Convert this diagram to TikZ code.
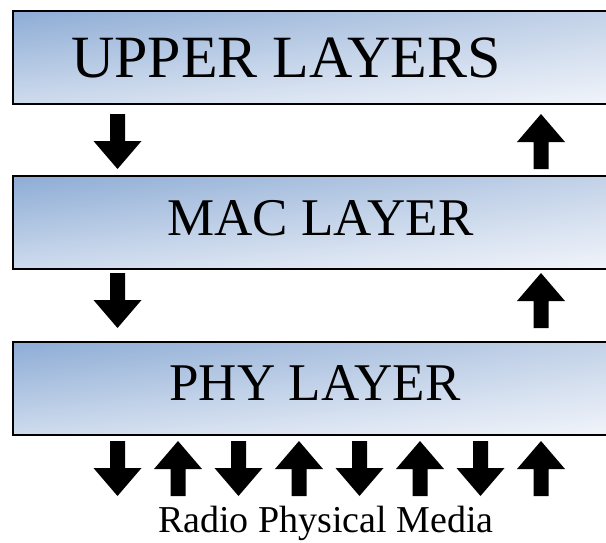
\documentclass[tikz,border=0pt]{standalone}
\usepackage{fontspec}
\setmainfont{Liberation Serif}
\usetikzlibrary{shadings}
\definecolor{boxUL}{RGB}{141,172,213}
\definecolor{boxUR}{RGB}{196,211,232}
\definecolor{boxLL}{RGB}{206,219,237}
\definecolor{boxLR}{RGB}{242,245,251}
\begin{document}
\begin{tikzpicture}[x=1pt,y=-1pt,
  layerbox/.style={draw=black, line width=1.6pt,
    upper left=boxUL, upper right=boxUR, lower left=boxLL, lower right=boxLR,
    anchor=north west, minimum width=620pt, minimum height=93pt, inner sep=0pt},
  bigtext/.style={font=\fontsize{60}{64}\selectfont, anchor=base, inner sep=0pt},
  midtext/.style={font=\fontsize{53}{57}\selectfont, anchor=base, inner sep=0pt},
  mediatext/.style={font=\fontsize{38}{42}\selectfont, anchor=base, inner sep=0pt},
  dnarrow/.pic={\fill[black] (-7.5,0) -- (7.5,0) -- (7.5,27) -- (24,27) -- (0,55)
      -- (-24,27) -- (-7.5,27) -- cycle;},
  uparrow/.pic={\fill[black] (0,0) -- (24,28) -- (7.5,28) -- (7.5,55) -- (-7.5,55)
      -- (-7.5,28) -- (-24,28) -- cycle;}
]
\useasboundingbox (0,0) rectangle (606,542);
\clip (0,0) rectangle (606,542);

% protocol layers
\node[layerbox] (upper) at (12,10) {};
\node[layerbox] (mac) at (12,175) {};
\node[layerbox] (phy) at (12,341) {};

\node[bigtext] (uppertxt) at (286,77.3) {UPPER LAYERS};
\node[midtext] (mactxt) at (320.5,235) {MAC LAYER};
\node[midtext] (phytxt) at (315,400) {PHY LAYER};

% data flow between layers
\pic at (117.5,114) {dnarrow};
\pic at (541,114) {uparrow};
\pic at (117.5,273) {dnarrow};
\pic at (541,273) {uparrow};

% exchange with the radio medium
\foreach \i in {0,2,4,6} {
  \pic at ({117.5+60.5*\i},441) {dnarrow};
}
\foreach \i in {1,3,5,7} {
  \pic at ({117.5+60.5*\i},441) {uparrow};
}

\node[mediatext] (media) at (326,532) {Radio Physical Media};
\end{tikzpicture}
\end{document}
